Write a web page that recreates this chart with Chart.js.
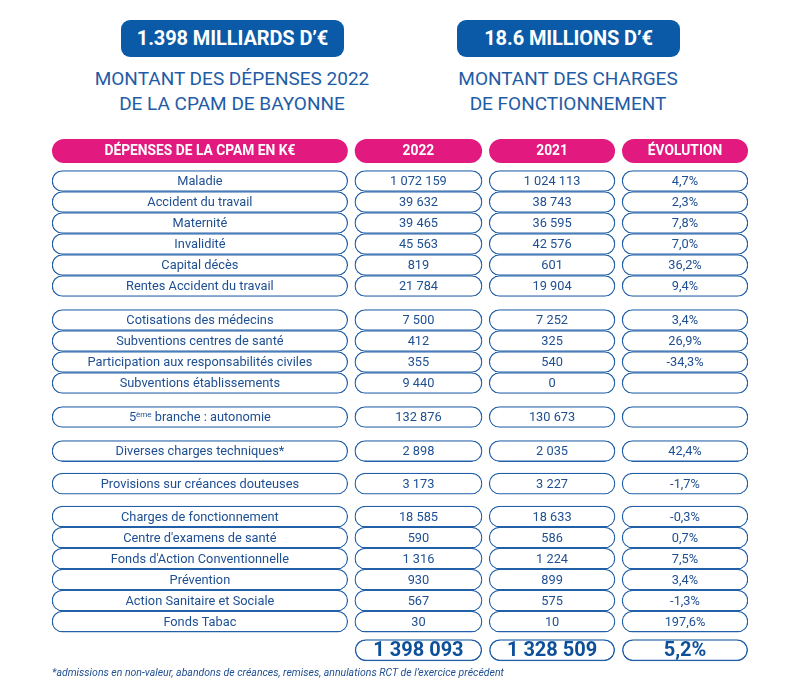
<!DOCTYPE html>
<html lang="fr">
<head>
<meta charset="utf-8">
<title>Dépenses CPAM de Bayonne</title>
<script src="https://cdn.jsdelivr.net/npm/chart.js@4/dist/chart.umd.min.js"></script>
<style>
  body { margin: 0; background: #fff; }
  #page { position: relative; width: 800px; height: 700px; overflow: hidden; font-family: Roboto, "Noto Sans", sans-serif; color: #1e4f92; }
  .kpi { position: absolute; top: 20px; height: 37px; width: 223px; background: #0b5aa7; border-radius: 9px;
         color: #fff; font-weight: 700; font-size: 20px; line-height: 37px; text-align: center; letter-spacing: -0.1px; }
  .sub { position: absolute; top: 66px; width: 320px; text-align: center; font-size: 19px; line-height: 25px; color: #1f5ca6; }
  #wrap { position: absolute; left: 0; top: 130px; width: 800px; height: 540px; }
  #note { position: absolute; left: 52px; top: 666px; font-size: 10.5px; font-style: italic; color: #1e4f92; }
</style>
</head>
<body>
<div id="page">
  <div class="kpi" style="left:121px">1.398 MILLIARDS D’€</div>
  <div class="sub" style="left:72px">MONTANT DES DÉPENSES 2022<br>DE LA CPAM DE BAYONNE</div>
  <div class="kpi" style="left:457px">18.6 MILLIONS D’€</div>
  <div class="sub" style="left:408px">MONTANT DES CHARGES<br>DE FONCTIONNEMENT</div>
  <div id="wrap"><canvas id="table" width="800" height="540"></canvas></div>
  <div id="note">*admissions en non-valeur, abandons de créances, remises, annulations RCT de l’exercice précédent</div>
</div>
<script>
// Data
const headers = ['DÉPENSES DE LA CPAM EN K€', '2022', '2021', 'ÉVOLUTION'];
const categories = [
    'Maladie', 'Accident du travail', 'Maternité', 'Invalidité', 'Capital décès', 'Rentes Accident du travail',
    'Cotisations des médecins', 'Subventions centres de santé', 'Participation aux responsabilités civiles', 'Subventions établissements',
    '5ème branche : autonomie',
    'Diverses charges techniques*',
    'Provisions sur créances douteuses',
    'Charges de fonctionnement', "Centre d'examens de santé", "Fonds d'Action Conventionnelle", 'Prévention', 'Action Sanitaire et Sociale', 'Fonds Tabac'
];
const values2022 = [1072159, 39632, 39465, 45563, 819, 21784, 7500, 412, 355, 9440, 132876, 2898, 3173, 18585, 590, 1316, 930, 567, 30];
const values2021 = [1024113, 38743, 36595, 42576, 601, 19904, 7252, 325, 540, 0, 130673, 2035, 3227, 18633, 586, 1224, 899, 575, 10];
const evolution = [4.7, 2.3, 7.8, 7.0, 36.2, 9.4, 3.4, 26.9, -34.3, null, null, 42.4, -1.7, -0.3, 0.7, 7.5, 3.4, -1.3, 197.6];
const sectionSizes = [6, 4, 1, 1, 1, 6];
const totals = [1398093, 1328509, 5.2];

// Layout (vertical gaps between sections, in row units)
const sectionGaps = [0.62, 0.62, 0.62, 0.55, 0.57];
const headerGap = 0.43;
const totalGap = 0.36;
// column spans across the table width (0-100)
const columns = [[0, 42.5], [43.5, 61.8], [62.8, 80.9], [81.9, 100]];

const BLUE = '#2360a8';
const TEXT = '#1e4f92';
const PINK = '#e2197e';

// row positions on the y scale
const rowPos = [];
let offset = 0, r = 0;
sectionSizes.forEach((n, s) => {
    if (s > 0) offset += sectionGaps[s - 1];
    for (let k = 0; k < n; k++) { rowPos.push(r + offset); r++; }
});
const headerPos = -1 - headerGap;
const totalPos = rowPos[rowPos.length - 1] + 1 + totalGap;

function fmtNum(v) {
    return String(v).replace(/\B(?=(\d{3})+(?!\d))/g, ' ');
}
function fmtPct(v) {
    return v === null ? '' : v.toFixed(1).replace('.', ',') + '%';
}

function cellDataset(col, texts, extra) {
    return Object.assign({
        data: rowPos.map(y => ({ x: columns[col], y: y })),
        texts: texts,
        backgroundColor: '#fff',
        borderColor: BLUE,
        borderWidth: 1.3,
        borderSkipped: false,
        borderRadius: 12,
        grouped: false,
        barPercentage: 1,
        categoryPercentage: 1,
        textFont: '12.8px Roboto',
        textColor: TEXT
    }, extra || {});
}

const datasets = [
    {
        label: 'en-têtes',
        data: columns.map(c => ({ x: c, y: headerPos })),
        texts: headers,
        backgroundColor: PINK,
        borderWidth: 0,
        borderSkipped: false,
        borderRadius: 12,
        grouped: false,
        barPercentage: 24 / 21,
        categoryPercentage: 1,
        textFont: 'bold 13.8px Roboto',
        textColor: '#fff'
    },
    cellDataset(0, categories, { label: 'Dépenses' }),
    cellDataset(1, values2022.map(fmtNum), { label: '2022' }),
    cellDataset(2, values2021.map(fmtNum), { label: '2021' }),
    cellDataset(3, evolution.map(fmtPct), { label: 'Évolution' }),
    {
        label: 'Total',
        data: [1, 2, 3].map(c => ({ x: columns[c], y: totalPos })),
        texts: [fmtNum(totals[0]), fmtNum(totals[1]), fmtPct(totals[2])],
        backgroundColor: '#fff',
        borderColor: BLUE,
        borderWidth: 1.6,
        borderSkipped: false,
        borderRadius: 12,
        grouped: false,
        barPercentage: 22 / 21,
        categoryPercentage: 1,
        textFont: 'bold 20px Roboto',
        textColor: '#0d4f98'
    }
];

// draws the cell texts at the centre of each bar
const cellText = {
    id: 'cellText',
    afterDatasetsDraw(chart) {
        const ctx = chart.ctx;
        ctx.save();
        ctx.textAlign = 'center';
        ctx.textBaseline = 'middle';
        chart.data.datasets.forEach((ds, di) => {
            const meta = chart.getDatasetMeta(di);
            meta.data.forEach((bar, i) => {
                const txt = ds.texts[i];
                if (!txt) return;
                const p = bar.getCenterPoint();
                ctx.fillStyle = ds.textColor;
                ctx.font = ds.textFont;
                const sup = /^(\d+)(ème)(.*)$/.exec(txt);
                if (sup) {
                    const smallFont = '8px Roboto';
                    const w1 = ctx.measureText(sup[1]).width;
                    const w3 = ctx.measureText(sup[3]).width;
                    ctx.font = smallFont;
                    const w2 = ctx.measureText(sup[2]).width;
                    let x = p.x - (w1 + w2 + w3) / 2;
                    ctx.textAlign = 'left';
                    ctx.font = ds.textFont;
                    ctx.fillText(sup[1], x, p.y + 1);
                    ctx.font = smallFont;
                    ctx.fillText(sup[2], x + w1, p.y - 2.5);
                    ctx.font = ds.textFont;
                    ctx.fillText(sup[3], x + w1 + w2, p.y + 1);
                    ctx.textAlign = 'center';
                } else {
                    ctx.fillText(txt, p.x, p.y + 1);
                }
            });
        });
        ctx.restore();
    }
};

const H = 540, ROW = 21, FIRST = 51;
new Chart(document.getElementById('table'), {
    type: 'bar',
    data: { datasets: datasets },
    options: {
        indexAxis: 'y',
        responsive: false,
        animation: false,
        layout: { padding: { left: 52, right: 52, top: 0, bottom: 0 } },
        plugins: { legend: { display: false }, tooltip: { enabled: false } },
        scales: {
            x: { type: 'linear', min: 0, max: 100, display: false },
            y: {
                type: 'linear', reverse: true, offset: false, display: false,
                min: -FIRST / ROW, max: (H - FIRST) / ROW,
                ticks: { stepSize: 5 }
            }
        }
    },
    plugins: [cellText]
});
</script>
</body>
</html>
